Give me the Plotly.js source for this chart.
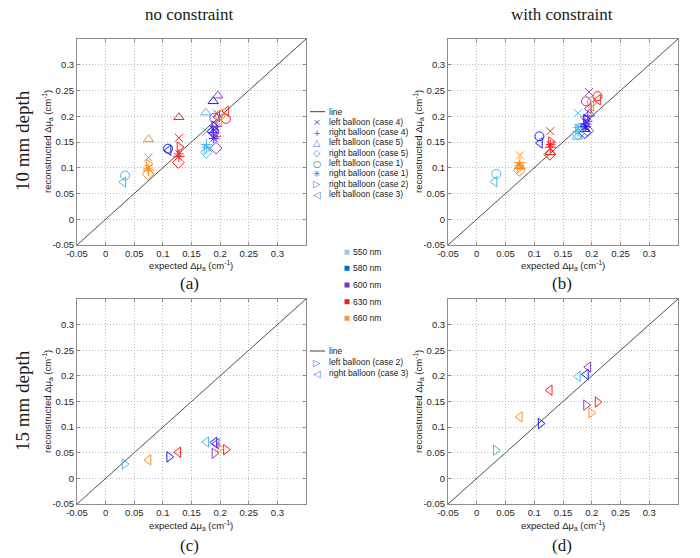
<!DOCTYPE html>
<html><head><meta charset="utf-8">
<script src="https://cdn.plot.ly/plotly-3.0.1.min.js"></script>
<style>body{margin:0;background:#fff}</style>
</head><body><div id="chart" style="width:700px;height:558px"></div>
<script>
// ---------- data ----------
const wavelengths = ['550 nm', '580 nm', '600 nm', '630 nm', '660 nm'];
const wlColors = ['#4cb9ef', '#1a1aff', '#8a3fc4', '#ff1f1f', '#ff8a1c'];
const swatchColors = ['#92cde0', '#0070c0', '#7a35b8', '#e8200c', '#f79646'];

const caseNames10 = ['left balloon (case 4)', 'right balloon (case 4)', 'left balloon (case 5)', 'right balloon (case 5)',
  'left balloon (case 1)', 'right balloon (case 1)', 'right balloon (case 2)', 'left balloon (case 3)'];
const caseSymbols10 = ['x-thin-open', 'cross-thin-open', 'triangle-up-open', 'diamond-open',
  'circle-open', 'asterisk-open', 'triangle-right-open', 'triangle-left-open'];
const caseGlyphs10 = ['×', '+', '△', '◇', '○', '✳', '▷', '◁'];
const caseNames15 = ['left balloon (case 2)', 'right balloon (case 3)'];
const caseSymbols15 = ['triangle-right-open', 'triangle-left-open'];
const caseGlyphs15 = ['▷', '◁'];

const tickVals = [-0.05, 0, 0.05, 0.1, 0.15, 0.2, 0.25, 0.3];
const tickText = ['-0.05', '0', '0.05', '0.1', '0.15', '0.2', '0.25', '0.3'];
const lineX = [-0.05, 0.35];
const lineY = [-0.05, 0.35];

// expected values, 10 mm depth (order: 550, 580, 600, 630, 660 nm)
const exp10_case4L = [0.176, 0.188, 0.195, 0.128, 0.075];
const exp10_case4R = [0.176, 0.188, 0.193, 0.128, 0.075];
const exp10_case5L = [0.175, 0.188, 0.196, 0.128, 0.075];
const exp10_case5R = [0.176, 0.188, 0.193, 0.127, 0.074];
const exp10_case1L = [0.034, 0.109, 0.190, 0.210, 0.200];
const exp10_case1R = [0.176, 0.189, 0.193, 0.128, 0.074];
const exp10_case2R = [0.176, 0.190, 0.190, 0.129, 0.075];
const exp10_case3L = [0.031, 0.110, 0.195, 0.211, 0.199];

// (a) 10 mm, no constraint: reconstructed
const a_case4L = [0.170, 0.175, 0.205, 0.158, 0.120];
const a_case4R = [0.145, 0.168, 0.180, 0.122, 0.095];
const a_case5L = [0.207, 0.229, 0.240, 0.198, 0.155];
const a_case5R = [0.130, 0.171, 0.138, 0.110, 0.088];
const a_case1L = [0.085, 0.137, 0.197, 0.195, 0.202];
const a_case1R = [0.140, 0.157, 0.161, 0.127, 0.099];
const a_case2R = [0.136, 0.180, 0.174, 0.140, 0.107];
const a_case3L = [0.072, 0.134, 0.199, 0.210, 0.190];

// (b) 10 mm, with constraint: reconstructed
const b_case4L = [0.206, 0.190, 0.247, 0.171, 0.124];
const b_case4R = [0.170, 0.185, 0.200, 0.140, 0.110];
const b_case5L = [0.160, 0.175, 0.205, 0.130, 0.103];
const b_case5R = [0.165, 0.168, 0.172, 0.126, 0.095];
const b_case1L = [0.088, 0.161, 0.229, 0.239, 0.228];
const b_case1R = [0.178, 0.180, 0.190, 0.145, 0.105];
const b_case2R = [0.175, 0.194, 0.180, 0.150, 0.100];
const b_case3L = [0.073, 0.148, 0.215, 0.232, 0.220];

// 15 mm depth: expected and reconstructed
const exp15_case2 = [0.033, 0.111, 0.190, 0.210, 0.199];
const exp15_case3 = [0.176, 0.190, 0.194, 0.127, 0.075];
const c_case2 = [0.028, 0.042, 0.049, 0.056, 0.059];
const c_case3 = [0.071, 0.070, 0.068, 0.051, 0.036];
const d_case2 = [0.055, 0.107, 0.143, 0.149, 0.128];
const d_case3 = [0.199, 0.203, 0.217, 0.172, 0.120];

// ---------- build ----------
const W = 700, H = 558;
const px = v => v / W;
const py = v => 1 - v / H;

const exp10 = [exp10_case4L, exp10_case4R, exp10_case5L, exp10_case5R, exp10_case1L, exp10_case1R, exp10_case2R, exp10_case3L];
const rec10a = [a_case4L, a_case4R, a_case5L, a_case5R, a_case1L, a_case1R, a_case2R, a_case3L];
const rec10b = [b_case4L, b_case4R, b_case5L, b_case5R, b_case1L, b_case1R, b_case2R, b_case3L];
const exp15 = [exp15_case2, exp15_case3];
const rec15c = [c_case2, c_case3];
const rec15d = [d_case2, d_case3];

const traces = [];
function addPanel(xs, ys, symbols, names, xa, ya) {
  traces.push({x: lineX, y: lineY, xaxis: xa, yaxis: ya, mode: 'lines', type: 'scatter',
    line: {color: '#505050', width: 1}, showlegend: false, hoverinfo: 'skip'});
  xs.forEach((xv, i) => {
    const sym = symbols[i];
    const thin = sym.indexOf('thin') >= 0 || sym.indexOf('asterisk') >= 0;
    traces.push({x: xv, y: ys[i], xaxis: xa, yaxis: ya, mode: 'markers', type: 'scatter',
      name: names[i], text: wavelengths, showlegend: false,
      marker: {symbol: sym, size: thin ? 8 : 9, color: wlColors,
        line: {color: wlColors, width: 1}}});
  });
}
addPanel(exp10, rec10a, caseSymbols10, caseNames10, 'x', 'y');
addPanel(exp10, rec10b, caseSymbols10, caseNames10, 'x2', 'y2');
addPanel(exp15, rec15c, caseSymbols15, caseNames15, 'x3', 'y3');
addPanel(exp15, rec15d, caseSymbols15, caseNames15, 'x4', 'y4');

function axis(domain, anchor) {
  return {domain: domain, anchor: anchor, range: [-0.05, 0.35], tickmode: 'array',
    tickvals: tickVals, ticktext: tickText, showgrid: true, gridcolor: '#bdbdbd',
    griddash: '1px,2px', gridwidth: 1, zeroline: false, showline: true, linecolor: '#8c8c8c',
    linewidth: 1, mirror: 'ticks', ticks: 'inside', ticklen: 3, tickcolor: '#8c8c8c',
    tickfont: {family: 'Liberation Sans, Arial, sans-serif', size: 9.5, color: '#262626'},
    fixedrange: true};
}
const colL = [px(77), px(306)], colR = [px(448), px(678)];
const rowT = [py(245), py(39)], rowB = [py(504), py(299)];

const serif = 'Liberation Serif, Times New Roman, serif';
const sans = 'Liberation Sans, Arial, sans-serif';
const ann = [];
function txt(x, y, text, size, family, opts) {
  ann.push(Object.assign({xref: 'paper', yref: 'paper', x: px(x), y: py(y), text: text,
    showarrow: false, font: {family: family, size: size, color: '#1a1a1a'},
    xanchor: 'center', yanchor: 'middle'}, opts || {}));
}
txt(190, 15, 'no constraint', 17, serif);
txt(562, 15, 'with constraint', 17, serif);
txt(22, 141, '10 mm depth', 19, serif, {textangle: -90});
txt(22, 401, '15 mm depth', 19, serif, {textangle: -90});
[[190, 283, '(a)'], [562, 283, '(b)'], [190, 545, '(c)'], [562, 545, '(d)']].forEach(p => txt(p[0], p[1], p[2], 17, serif));
const xTitle = 'expected Δμ<sub>a</sub> (cm<sup>-1</sup>)';
const yTitle = 'reconstructed Δμ<sub>a</sub> (cm<sup>-1</sup>)';
[[191, 265], [563, 265], [191, 525], [563, 525]].forEach(p => txt(p[0], p[1], xTitle, 9.5, sans));
[[47, 142], [418, 142], [47, 402], [418, 402]].forEach(p => txt(p[0], p[1], yTitle, 9.5, sans, {textangle: -90}));

const shapes = [];
const legBlue = '#3b6fe0';
function symLegend(names, glyphs, yLine, yStart, step) {
  shapes.push({type: 'line', xref: 'paper', yref: 'paper', x0: px(310), x1: px(325),
    y0: py(yLine), y1: py(yLine), line: {color: '#404040', width: 1}});
  txt(327, yLine, 'line', 8.5, sans, {xanchor: 'left'});
  names.forEach((n, i) => {
    const y = yStart + i * step;
    txt(317, y, glyphs[i], 9.5, 'DejaVu Sans, sans-serif', {font: {family: 'DejaVu Sans, sans-serif', size: 9.5, color: legBlue}});
    txt(327, y, n, 8.5, sans, {xanchor: 'left'});
  });
}
symLegend(caseNames10, caseGlyphs10, 111.7, 121.7, 10.33);
symLegend(caseNames15, caseGlyphs15, 351, 362, 11);

const swatchY = [252.3, 268.3, 285, 301.7, 318.3];
wavelengths.forEach((w, i) => {
  const y = swatchY[i];
  shapes.push({type: 'rect', xref: 'paper', yref: 'paper', x0: px(344.5), x1: px(349.5),
    y0: py(y + 2.5), y1: py(y - 2.5), fillcolor: swatchColors[i], line: {width: 0}});
  txt(351, y, w, 8.5, sans, {xanchor: 'left'});
});

const layout = {
  width: W, height: H, margin: {l: 0, r: 0, t: 0, b: 0},
  paper_bgcolor: '#fff', plot_bgcolor: '#fff', showlegend: false,
  xaxis: axis(colL, 'y'), yaxis: axis(rowT, 'x'),
  xaxis2: axis(colR, 'y2'), yaxis2: axis(rowT, 'x2'),
  xaxis3: axis(colL, 'y3'), yaxis3: axis(rowB, 'x3'),
  xaxis4: axis(colR, 'y4'), yaxis4: axis(rowB, 'x4'),
  annotations: ann, shapes: shapes
};
Plotly.newPlot('chart', traces, layout, {staticPlot: true, displayModeBar: false});
</script></body></html>
